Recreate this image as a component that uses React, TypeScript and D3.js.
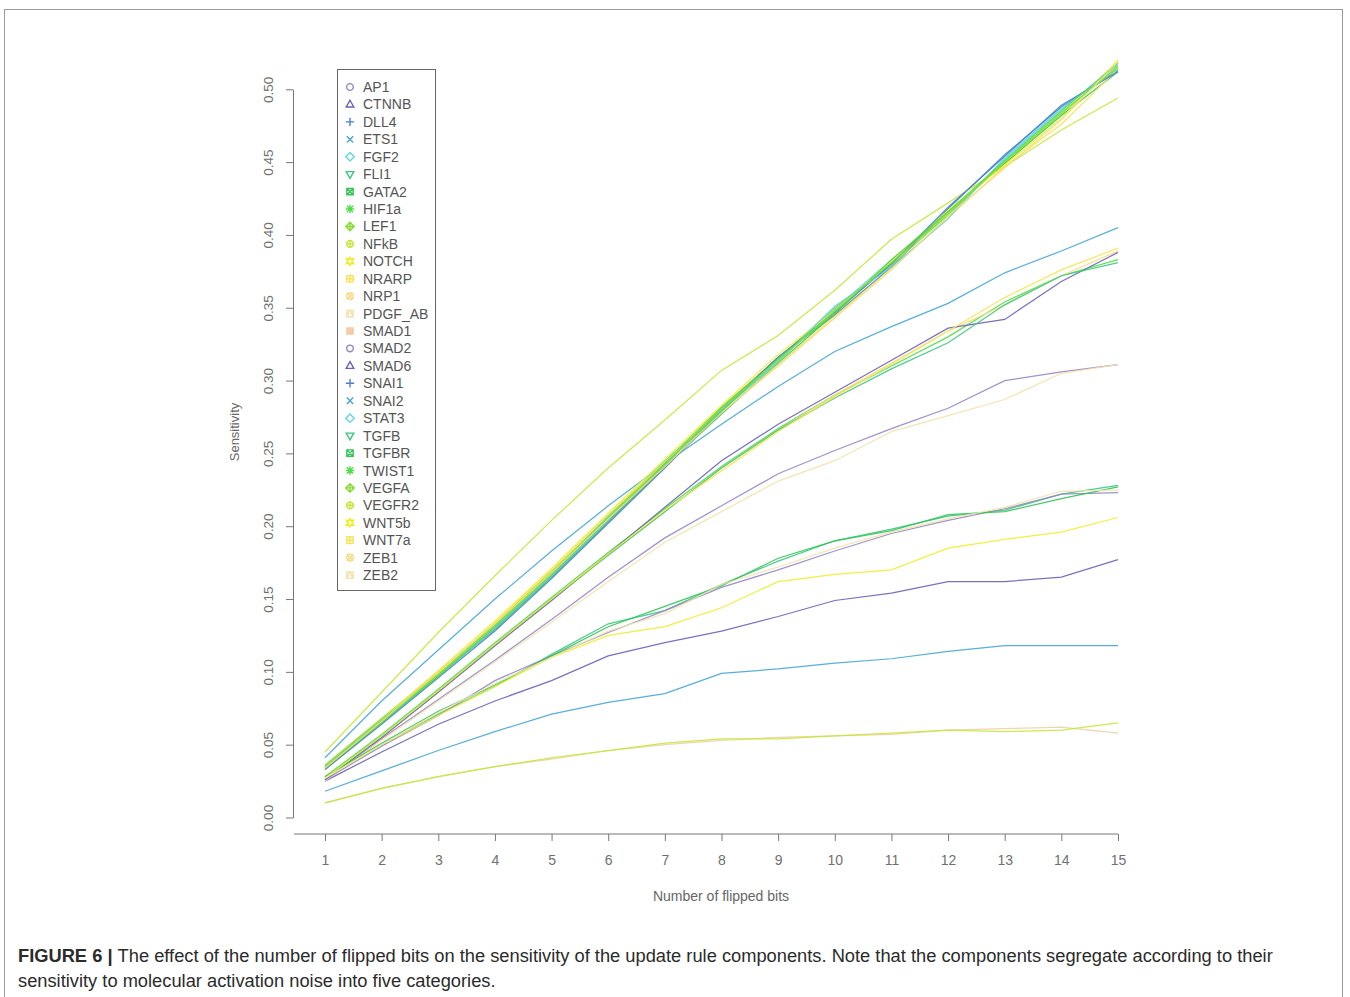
import React, { useEffect, useRef } from 'react';
import * as d3 from 'd3';

// number of flipped bits on the x axis
const flips = [1, 2, 3, 4, 5, 6, 7, 8, 9, 10, 11, 12, 13, 14, 15];
const yTicks = [0, 0.05, 0.1, 0.15, 0.2, 0.25, 0.3, 0.35, 0.4, 0.45, 0.5];

// sensitivity of each update rule component
const AP1 = [0.026, 0.054, 0.081, 0.108, 0.136, 0.165, 0.192, 0.214, 0.236, 0.252, 0.267, 0.281, 0.300, 0.306, 0.311];
const CTNNB = [0.025, 0.045, 0.064, 0.080, 0.094, 0.111, 0.120, 0.128, 0.138, 0.149, 0.154, 0.162, 0.162, 0.165, 0.177];
const DLL4 = [0.033, 0.065, 0.097, 0.130, 0.166, 0.204, 0.242, 0.281, 0.316, 0.345, 0.378, 0.418, 0.455, 0.488, 0.513];
const ETS1 = [0.041, 0.080, 0.115, 0.150, 0.183, 0.214, 0.243, 0.270, 0.296, 0.320, 0.337, 0.353, 0.374, 0.389, 0.405];
const FGF2 = [0.035, 0.067, 0.099, 0.132, 0.168, 0.207, 0.245, 0.279, 0.313, 0.349, 0.383, 0.413, 0.452, 0.486, 0.517];
const FLI1 = [0.027, 0.050, 0.071, 0.090, 0.112, 0.133, 0.142, 0.160, 0.176, 0.190, 0.198, 0.207, 0.211, 0.222, 0.228];
const GATA2 = [0.034, 0.066, 0.098, 0.129, 0.165, 0.203, 0.241, 0.277, 0.312, 0.346, 0.381, 0.416, 0.449, 0.482, 0.512];
const HIF1a = [0.028, 0.057, 0.088, 0.120, 0.151, 0.182, 0.212, 0.241, 0.267, 0.290, 0.310, 0.330, 0.354, 0.372, 0.383];
const LEF1 = [0.036, 0.068, 0.100, 0.133, 0.169, 0.206, 0.244, 0.282, 0.315, 0.350, 0.379, 0.414, 0.450, 0.483, 0.516];
const NFkB = [0.045, 0.086, 0.127, 0.166, 0.204, 0.240, 0.273, 0.307, 0.331, 0.362, 0.397, 0.422, 0.447, 0.472, 0.494];
const NOTCH = [0.034, 0.067, 0.101, 0.135, 0.171, 0.209, 0.246, 0.283, 0.318, 0.348, 0.382, 0.417, 0.448, 0.480, 0.520];
const NRARP = [0.033, 0.066, 0.099, 0.134, 0.170, 0.208, 0.244, 0.278, 0.311, 0.344, 0.377, 0.412, 0.447, 0.476, 0.514];
const NRP1 = [0.026, 0.055, 0.086, 0.118, 0.149, 0.180, 0.210, 0.240, 0.266, 0.290, 0.312, 0.334, 0.352, 0.372, 0.389];
const PDGF_AB = [0.025, 0.053, 0.080, 0.107, 0.134, 0.162, 0.189, 0.210, 0.231, 0.245, 0.265, 0.276, 0.287, 0.305, 0.311];
const SMAD1 = [0.010, 0.020, 0.028, 0.035, 0.040, 0.046, 0.050, 0.053, 0.055, 0.056, 0.057, 0.060, 0.061, 0.062, 0.058];
const SMAD2 = [0.026, 0.049, 0.070, 0.094, 0.111, 0.127, 0.142, 0.158, 0.170, 0.183, 0.195, 0.204, 0.212, 0.222, 0.223];
const SMAD6 = [0.026, 0.055, 0.086, 0.118, 0.149, 0.181, 0.213, 0.245, 0.270, 0.292, 0.314, 0.336, 0.342, 0.368, 0.388];
const SNAI1 = [0.033, 0.064, 0.096, 0.128, 0.164, 0.202, 0.240, 0.279, 0.316, 0.347, 0.380, 0.419, 0.454, 0.489, 0.512];
const SNAI2 = [0.018, 0.032, 0.046, 0.059, 0.071, 0.079, 0.085, 0.099, 0.102, 0.106, 0.109, 0.114, 0.118, 0.118, 0.118];
const STAT3 = [0.035, 0.066, 0.097, 0.130, 0.166, 0.204, 0.243, 0.280, 0.313, 0.351, 0.378, 0.411, 0.453, 0.487, 0.514];
const TGFB = [0.027, 0.056, 0.087, 0.119, 0.150, 0.180, 0.210, 0.240, 0.266, 0.288, 0.308, 0.326, 0.352, 0.372, 0.381];
const TGFBR = [0.028, 0.051, 0.073, 0.091, 0.111, 0.131, 0.145, 0.159, 0.178, 0.190, 0.197, 0.208, 0.210, 0.219, 0.227];
const TWIST1 = [0.034, 0.065, 0.097, 0.131, 0.167, 0.205, 0.243, 0.279, 0.315, 0.346, 0.383, 0.416, 0.451, 0.485, 0.518];
const VEGFA = [0.035, 0.067, 0.098, 0.132, 0.167, 0.206, 0.242, 0.281, 0.314, 0.348, 0.381, 0.415, 0.450, 0.484, 0.515];
const VEGFR2 = [0.010, 0.020, 0.028, 0.035, 0.041, 0.046, 0.051, 0.054, 0.054, 0.056, 0.058, 0.060, 0.059, 0.060, 0.065];
const WNT5b = [0.027, 0.050, 0.070, 0.090, 0.110, 0.125, 0.131, 0.144, 0.162, 0.167, 0.170, 0.185, 0.191, 0.196, 0.206];
const WNT7a = [0.027, 0.056, 0.087, 0.119, 0.150, 0.181, 0.211, 0.238, 0.265, 0.289, 0.311, 0.334, 0.357, 0.376, 0.391];
const ZEB1 = [0.034, 0.066, 0.100, 0.133, 0.168, 0.205, 0.241, 0.278, 0.310, 0.343, 0.376, 0.413, 0.446, 0.479, 0.519];
const ZEB2 = [0.027, 0.050, 0.072, 0.092, 0.110, 0.128, 0.140, 0.160, 0.172, 0.185, 0.196, 0.205, 0.213, 0.224, 0.225];

const genes = ['AP1', 'CTNNB', 'DLL4', 'ETS1', 'FGF2', 'FLI1', 'GATA2', 'HIF1a', 'LEF1', 'NFkB',
  'NOTCH', 'NRARP', 'NRP1', 'PDGF_AB', 'SMAD1', 'SMAD2', 'SMAD6', 'SNAI1', 'SNAI2', 'STAT3',
  'TGFB', 'TGFBR', 'TWIST1', 'VEGFA', 'VEGFR2', 'WNT5b', 'WNT7a', 'ZEB1', 'ZEB2'];
const values = [AP1, CTNNB, DLL4, ETS1, FGF2, FLI1, GATA2, HIF1a, LEF1, NFkB,
  NOTCH, NRARP, NRP1, PDGF_AB, SMAD1, SMAD2, SMAD6, SNAI1, SNAI2, STAT3,
  TGFB, TGFBR, TWIST1, VEGFA, VEGFR2, WNT5b, WNT7a, ZEB1, ZEB2];

// 15 colours, cycled like R's col/pch
const palette = ['#9686c6', '#6a62b6', '#4d7fce', '#45a6d6', '#62d4e4', '#3cc682', '#32c455',
  '#4ddf45', '#86dc34', '#c4e83a', '#eeee2c', '#f6e454', '#f6da84', '#f2e2ac', '#f2cfa8'];

const FONT = '"Liberation Sans", Arial, Helvetica, sans-serif';

function pchPath(p: number, r: number) {
  const c = (rr: number) => `M${-rr},0a${rr},${rr} 0 1,0 ${2 * rr},0a${rr},${rr} 0 1,0 ${-2 * rr},0`;
  const plus = `M${-r},0H${r}M0,${-r}V${r}`;
  const k = r * 0.75;
  const cross = `M${-k},${-k}L${k},${k}M${-k},${k}L${k},${-k}`;
  const sq = `M${-k},${-k}H${k}V${k}H${-k}Z`;
  const dia = `M0,${-r}L${r},0L0,${r}L${-r},0Z`;
  const up = `M0,${-r}L${r * 0.9},${r * 0.6}L${-r * 0.9},${r * 0.6}Z`;
  const down = `M0,${r}L${r * 0.9},${-r * 0.6}L${-r * 0.9},${-r * 0.6}Z`;
  switch (p) {
    case 1: return c(r * 0.8);
    case 2: return up;
    case 3: return plus;
    case 4: return cross;
    case 5: return dia;
    case 6: return down;
    case 7: return sq + cross;
    case 8: return plus + cross;
    case 9: return dia + plus;
    case 10: return c(r * 0.8) + plus;
    case 11: return up + down;
    case 12: return sq + plus;
    case 13: return c(r * 0.8) + cross;
    case 14: return sq + `M${-k},${k}L0,${-k}L${k},${k}`;
    default: return sq;
  }
}

export default function App() {
  const ref = useRef<SVGSVGElement>(null);

  useEffect(() => {
    const svg = d3.select(ref.current);
    svg.selectAll('*').remove();

    // figure frame
    svg.append('rect')
      .attr('x', 4.5).attr('y', 9.5)
      .attr('width', 1338).attr('height', 1010)
      .attr('fill', 'none').attr('stroke', '#9a9a9a');

    const x = d3.scaleLinear().domain([1, 15]).range([325, 1118]);
    const y = d3.scaleLinear().domain([0, 0.5]).range([817.5, 89.3]);

    // Y axis
    const yAxis = d3.axisLeft(y).tickValues(yTicks).tickSize(7).tickSizeOuter(0)
      .tickFormat(d3.format('.2f'));
    const gy = svg.append('g').attr('transform', 'translate(293,0)').call(yAxis);
    gy.select('.domain').attr('stroke', '#777');
    gy.selectAll('.tick line').attr('stroke', '#777');
    gy.selectAll('.tick text')
      .attr('transform', 'rotate(-90)')
      .attr('x', 0).attr('y', -20).attr('dy', 0)
      .attr('text-anchor', 'middle')
      .attr('fill', '#707070')
      .style('font', `13.5px ${FONT}`);

    // X axis
    const xAxis = d3.axisBottom(x).tickValues(flips).tickSize(7).tickSizeOuter(0)
      .tickFormat(d3.format('d'));
    const gx = svg.append('g').attr('transform', 'translate(0,834)').call(xAxis);
    gx.select('.domain').remove();
    gx.append('line').attr('x1', 294).attr('x2', x(15)).attr('y1', 0).attr('y2', 0).attr('stroke', '#777');
    gx.selectAll('.tick line').attr('stroke', '#777');
    gx.selectAll('.tick text')
      .attr('y', 21)
      .attr('fill', '#707070')
      .style('font', `14px ${FONT}`);

    svg.append('text')
      .attr('transform', 'translate(239,432) rotate(-90)')
      .attr('text-anchor', 'middle')
      .attr('fill', '#666')
      .style('font', `13px ${FONT}`)
      .text('Sensitivity');

    svg.append('text')
      .attr('x', 721).attr('y', 901)
      .attr('text-anchor', 'middle')
      .attr('fill', '#666')
      .style('font', `14px ${FONT}`)
      .text('Number of flipped bits');

    // lines
    const line = d3.line<number>()
      .x((_, i) => x(flips[i]))
      .y(d => y(d));

    svg.append('g').selectAll('path')
      .data(values)
      .join('path')
      .attr('d', d => line(d))
      .attr('fill', 'none')
      .attr('stroke', (_, i) => palette[i % 15])
      .attr('stroke-width', 1.25)
      .attr('stroke-opacity', 0.9);

    // legend
    const lg = svg.append('g');
    lg.append('rect')
      .attr('x', 337.5).attr('y', 69.5).attr('width', 98).attr('height', 521)
      .attr('fill', 'white').attr('stroke', '#666');
    const items = lg.selectAll('g.item').data(genes).join('g')
      .attr('class', 'item')
      .attr('transform', (_, i) => `translate(350,${87 + i * 17.43})`);
    items.append('path')
      .attr('d', (_, i) => pchPath((i % 15) + 1, 4.2))
      .attr('fill', (_, i) => (i % 15) === 14 ? palette[14] : 'none')
      .attr('stroke', (_, i) => palette[i % 15])
      .attr('stroke-width', 1.4);
    items.append('text')
      .attr('x', 13).attr('dy', '0.36em')
      .attr('fill', '#555')
      .style('font', `14px ${FONT}`)
      .text(d => d);

    // caption
    const cap = svg.append('text')
      .attr('x', 18).attr('y', 962)
      .attr('fill', '#2b2b2b')
      .style('font', `18.3px ${FONT}`);
    cap.append('tspan').attr('font-weight', 'bold').text('FIGURE 6 | ');
    cap.append('tspan')
      .text('The effect of the number of flipped bits on the sensitivity of the update rule components. Note that the components segregate according to their');
    svg.append('text')
      .attr('x', 18).attr('y', 987)
      .attr('fill', '#2b2b2b')
      .style('font', `18.3px ${FONT}`)
      .text('sensitivity to molecular activation noise into five categories.');
  }, []);

  return (
    <svg ref={ref} width={1350} height={997}
      style={{ position: 'absolute', left: 0, top: 0, background: '#fff' }} />
  );
}
